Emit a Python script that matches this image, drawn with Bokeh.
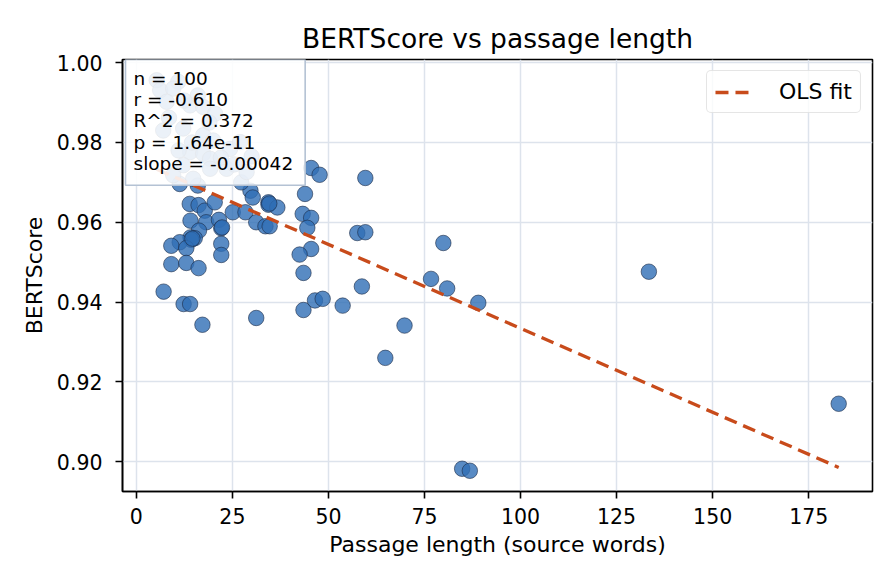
from bokeh.embed import file_html
from bokeh.models import ColumnDataSource, FixedTicker, Label, PrintfTickFormatter, Range1d
from bokeh.plotting import figure
from bokeh.resources import INLINE

# passage length (source words) and BERTScore
passage_words = [
    13.9, 16.2, 17.8, 20.4, 25.1, 28.4, 29.7, 30.3, 31.2, 34.4,
    34.4, 36.7, 33.6, 34.7, 14.1, 18.2, 21.5, 22.1, 16.3, 14.1,
    15.2, 14.3, 11.3, 9.1, 13.0, 22.1, 22.1, 9.1, 13.0, 16.2,
    7.1, 12.3, 14.0, 17.2, 31.2, 43.9, 43.3, 45.5, 44.5, 45.5,
    42.5, 43.5, 43.5, 46.5, 48.5, 53.7, 57.5, 59.6, 58.7, 45.5,
    47.7, 59.6, 79.9, 76.7, 80.9, 89.0, 69.8, 64.8, 84.8, 86.8,
    133.4, 182.8, 11.3, 16.0, 27.3,
    5.3, 10.9, 6.2, 9.6, 7.9, 14.0, 17.4, 7.0, 12.2, 17.4,
    20.0, 14.0, 17.4, 19.2, 24.4, 27.0, 12.2, 19.2, 23.5, 28.7,
    9.6, 14.8,
    14.5, 11.0, 20.5, 22.0, 25.5, 8.5, 16.0, 12.5, 19.0, 30.0,
    34.6, 14.6, 22.3,
]
bert_scores = [
    0.9646, 0.9643, 0.9629, 0.9650, 0.9625, 0.9625, 0.9679, 0.9662, 0.9600, 0.9650,
    0.9644, 0.9637, 0.9590, 0.9590, 0.9604, 0.9600, 0.9606, 0.9585, 0.9579, 0.9562,
    0.9560, 0.9556, 0.9550, 0.9541, 0.9535, 0.9546, 0.9518, 0.9495, 0.9498, 0.9485,
    0.9426, 0.9395, 0.9395, 0.9343, 0.9360, 0.9671, 0.9621, 0.9611, 0.9586, 0.9533,
    0.9519, 0.9473, 0.9380, 0.9404, 0.9408, 0.9391, 0.9573, 0.9575, 0.9439, 0.9736,
    0.9719, 0.9711, 0.9548, 0.9458, 0.9434, 0.9398, 0.9341, 0.9260, 0.8982, 0.8977,
    0.9476, 0.9145, 0.9696, 0.9692, 0.9700,
    0.9956, 0.9952, 0.9931, 0.9935, 0.9902, 0.9893, 0.9889, 0.9830, 0.9835, 0.9818,
    0.9805, 0.9776, 0.9772, 0.9759, 0.9784, 0.9801, 0.9743, 0.9734, 0.9734, 0.9726,
    0.9718, 0.9709,
    0.9800, 0.9780, 0.9872, 0.9762, 0.9745, 0.9862, 0.9918, 0.9905, 0.9850, 0.9765,
    0.9647, 0.9559, 0.9587,
]

ols_slope = -0.000421
ols_intercept = 0.9755
stats_lines = ["n = 100", "r = -0.610", "R^2 = 0.372", "p = 1.64e-11", "slope = -0.00042"]

x_ticks = [0, 25, 50, 75, 100, 125, 150, 175]
y_ticks = [0.90, 0.92, 0.94, 0.96, 0.98, 1.00]

FONT = "DejaVu Sans"

p = figure(
    width=888, height=576,
    x_range=Range1d(-3.6, 191.6), y_range=Range1d(0.8925, 1.0008),
    title="BERTScore vs passage length",
    output_backend="svg", toolbar_location=None,
    min_border_left=122, min_border_right=16, min_border_top=59, min_border_bottom=85,
)
p.title.align = "center"
p.title.text_font = FONT
p.title.text_font_size = "26.5px"
p.title.text_font_style = "normal"
p.title.text_color = "black"
p.title.standoff = 12

p.outline_line_color = "black"
p.outline_line_width = 1.6
p.outline_line_alpha = 1.0

for ax in (p.xaxis, p.yaxis):
    ax.axis_line_width = 1.6
    ax.axis_line_color = "black"
    ax.major_tick_out = 7
    ax.major_tick_in = 0
    ax.major_tick_line_width = 1.6
    ax.minor_tick_line_color = None
    ax.major_label_text_font = FONT
    ax.major_label_text_font_size = "20.5px"
    ax.major_label_text_color = "black"
    ax.axis_label_text_font = FONT
    ax.axis_label_text_font_size = "22px"
    ax.axis_label_text_font_style = "normal"
    ax.axis_label_text_color = "black"

p.xaxis.ticker = FixedTicker(ticks=x_ticks)
p.yaxis.ticker = FixedTicker(ticks=y_ticks)
p.yaxis.formatter = PrintfTickFormatter(format="%.2f")
p.xaxis.axis_label = "Passage length (source words)"
p.yaxis.axis_label = "BERTScore"
p.xaxis.major_label_standoff = 9
p.yaxis.major_label_standoff = 13
p.xaxis.axis_label_standoff = 5
p.yaxis.axis_label_standoff = 7

p.grid.grid_line_color = "#dde3ec"
p.grid.grid_line_width = 1.5

src = ColumnDataSource(data=dict(x=passage_words, y=bert_scores))
p.scatter("x", "y", source=src, size=15.5, fill_color="#2f6eb5", fill_alpha=0.8,
          line_color="#1b2b45", line_width=0.7, line_alpha=0.85)

# fitted line across the data range
x_fit = [min(passage_words), max(passage_words)]
y_fit = [ols_intercept + ols_slope * v for v in x_fit]
p.line(x_fit, y_fit, line_color="#c84b1b", line_width=3.3, line_dash="13 7",
       legend_label="OLS fit")

p.legend.location = "top_right"
p.legend.margin = 11
p.legend.padding = 8
p.legend.spacing = 0
p.legend.glyph_width = 40
p.legend.glyph_height = 20
p.legend.label_height = 20
p.legend.label_standoff = 24
p.legend.label_text_font = FONT
p.legend.label_text_font_size = "22px"
p.legend.label_text_color = "black"
p.legend.border_line_color = "#cccccc"
p.legend.border_line_width = 1.5
p.legend.border_radius = 5
p.legend.background_fill_alpha = 0.8

frame_w = 888 - 122 - 16
px_per_x = frame_w / (p.x_range.end - p.x_range.start)
stats = Label(
    x=p.x_range.start + 3 / px_per_x, y=p.y_range.end,
    text="\n".join(stats_lines),
    text_align="left", text_baseline="top",
    text_font=FONT, text_font_size="18.5px", text_line_height=1.02,
    text_color="black",
    background_fill_color="white", background_fill_alpha=0.88,
    border_line_color="#b4c2d4", border_line_width=1.6,
    padding=(8, 12, 8, 11),
)
p.add_layout(stats)

open("out.html", "w").write(file_html(p, INLINE))
